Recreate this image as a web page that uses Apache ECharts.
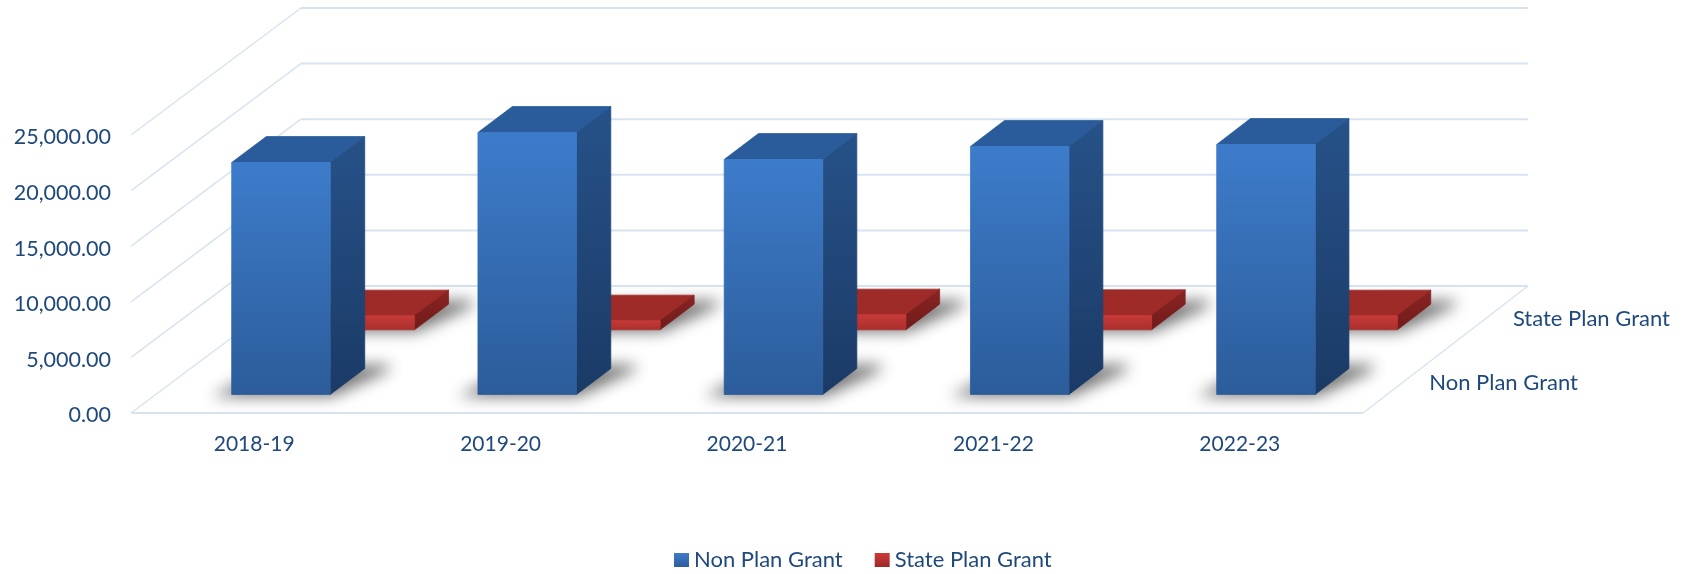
<!DOCTYPE html>
<html>
<head>
<meta charset="utf-8">
<style>
  html,body{margin:0;padding:0;background:#fff}
  #chart{width:1687px;height:574px}
</style>
<script src="https://cdn.jsdelivr.net/npm/echarts@6/dist/echarts.min.js"></script>
</head>
<body>
<div id="chart"></div>
<script>
const categories = ['2018-19', '2019-20', '2020-21', '2021-22', '2022-23']
const nonPlanGrant = [20860, 23560, 21130, 22300, 22480]
const statePlanGrant = [1260, 810, 1350, 1290, 1260]
const depthLabels = ['Non Plan Grant', 'State Plan Grant']
const yTicks = [0, 5000, 10000, 15000, 20000, 25000]

const textColor = '#1f497d'
const fontName = 'Lato'
const chart = echarts.init(document.getElementById('chart'))

// 假3D: 深度 0 是前面, 1 是后墙
const depthY = 127
function project(p, depth) {
  const t = (p[0] - 131) / 1232
  return [p[0] + depth * (170 - 5 * t), p[1] - depth * depthY]
}
function grad(top, bottom) {
  return new echarts.graphic.LinearGradient(0, 0, 0, 1, [
    { offset: 0, color: top },
    { offset: 1, color: bottom }
  ])
}
// 描一圈同色的边, 盖住相邻两面之间的缝
function poly(points, fill) {
  return { type: 'polygon', shape: { points }, style: { fill, stroke: fill, lineWidth: 0.8 } }
}

// 柱子: front/back 是这一排所在的深度
function bar3d(colors, front, back, shift) {
  return function (params, api) {
    const i = api.value(0)
    const w = api.size([1, 0])[0] * 0.4
    const base = api.coord([i, 0])
    const top = api.coord([i, api.value(1)])
    const l = base[0] - w / 2 + shift
    const r = base[0] + w / 2 + shift
    const fl0 = project([l, base[1]], front)
    const fr0 = project([r, base[1]], front)
    const bl0 = project([l, base[1]], back)
    const br0 = project([r, base[1]], back)
    const fl1 = project([l, top[1]], front)
    const fr1 = project([r, top[1]], front)
    const bl1 = project([l, top[1]], back)
    const br1 = project([r, top[1]], back)
    // 阴影: 图形画在画布外, 只留下模糊的影子
    const off = 3000
    const s = [
      [fl0[0] - 20, fl0[1] + 2],
      [fr0[0] + 2, fr0[1] + 2],
      [br0[0] + 24, br0[1] + 2],
      [br0[0] + 24, br0[1] - 4],
      [bl0[0], bl0[1]]
    ].map(p => [p[0] - off, p[1]])
    return {
      type: 'group',
      children: [
        {
          type: 'polygon',
          shape: { points: s },
          style: { fill: '#000', shadowBlur: 15, shadowColor: 'rgba(50,50,50,0.68)', shadowOffsetX: off },
          silent: true
        },
        poly([fl1, fr1, br1, bl1], colors.top),
        poly([fr0, br0, br1, fr1], colors.side),
        poly([fl0, fr0, fr1, fl1], colors.front)
      ]
    }
  }
}

// 背景网格线, 类目轴不能取 -0.5, 用半个带宽算两端
function wallItem(params, api) {
  const v = api.value(0)
  const band = api.size([1, 0])[0]
  const a = api.coord([0, v])
  const b = api.coord([categories.length - 1, v])
  a[0] -= band / 2
  b[0] += band / 2
  const line = (p, q, width) => ({
    type: 'line',
    shape: { x1: p[0], y1: p[1], x2: q[0], y2: q[1] },
    style: { stroke: '#d8e3f0', lineWidth: width, fill: null }
  })
  const children = [
    line(project(a, 0), project(a, 1), 1.5),
    line(project(a, 1), project(b, 1), 2)
  ]
  if (v === 0) {
    children.push(line(a, b, 2))
    children.push(line(b, project(b, 1), 1.5))
  }
  return { type: 'group', children }
}

function depthLabelItem(params, api) {
  const i = api.value(0)
  const end = api.coord([categories.length - 1, 0])
  end[0] += api.size([1, 0])[0] / 2
  const p = project(end, i === 0 ? 0.25 : 0.757)
  return {
    type: 'text',
    x: p[0] + 25,
    y: p[1] + 2,
    style: {
      text: depthLabels[i],
      fill: textColor,
      font: '22px ' + fontName,
      textAlign: 'left',
      textVerticalAlign: 'middle'
    }
  }
}

const blue = { front: grad('#3d7ccb', '#2c5c9a'), side: grad('#265289', '#1b3a66'), top: '#2a5c9b' }
const red = { front: grad('#c83a38', '#a82f2c'), side: grad('#8a2422', '#701b1a'), top: '#9e2b28' }

const option = {
  animation: false,
  grid: { left: 131, width: 1232, top: 135, height: 278 },
  legend: {
    data: ['Non Plan Grant', 'State Plan Grant'],
    left: 669,
    top: 544,
    itemWidth: 15,
    itemHeight: 14,
    itemGap: 32,
    icon: 'rect',
    textStyle: { color: textColor, fontFamily: fontName, fontSize: 22 }
  },
  xAxis: {
    type: 'category',
    data: categories,
    axisLine: { show: false },
    axisTick: { show: false },
    axisLabel: { color: textColor, fontFamily: fontName, fontSize: 21, margin: 21 }
  },
  yAxis: {
    type: 'value',
    min: 0,
    max: 25000,
    interval: 5000,
    axisLine: { show: false },
    axisTick: { show: false },
    splitLine: { show: false },
    axisLabel: {
      color: textColor,
      fontFamily: fontName,
      fontSize: 21.5,
      margin: 20,
      // 文字比刻度低一点
      verticalAlign: 'top',
      lineHeight: 5,
      formatter: v => v.toLocaleString('en-US', { minimumFractionDigits: 2, maximumFractionDigits: 2 })
    }
  },
  series: [
    {
      type: 'custom',
      silent: true,
      coordinateSystem: 'cartesian2d',
      data: yTicks.map(v => [v]),
      encode: { y: 0 },
      renderItem: wallItem
    },
    {
      type: 'custom',
      name: 'State Plan Grant',
      coordinateSystem: 'cartesian2d',
      itemStyle: { color: grad('#cc3a38', '#9c2b29') },
      data: statePlanGrant.map((v, i) => [i, v]),
      encode: { x: 0, y: 1 },
      renderItem: bar3d(red, 0.655, 0.857, 0)
    },
    {
      type: 'custom',
      name: 'Non Plan Grant',
      coordinateSystem: 'cartesian2d',
      itemStyle: { color: grad('#3e7ccc', '#2d5c9c') },
      data: nonPlanGrant.map((v, i) => [i, v]),
      encode: { x: 0, y: 1 },
      renderItem: bar3d(blue, 0.146, 0.35, 2)
    },
    {
      type: 'custom',
      silent: true,
      coordinateSystem: 'cartesian2d',
      data: depthLabels.map((v, i) => [i]),
      renderItem: depthLabelItem
    }
  ]
}
chart.setOption(option)
</script>
</body>
</html>
